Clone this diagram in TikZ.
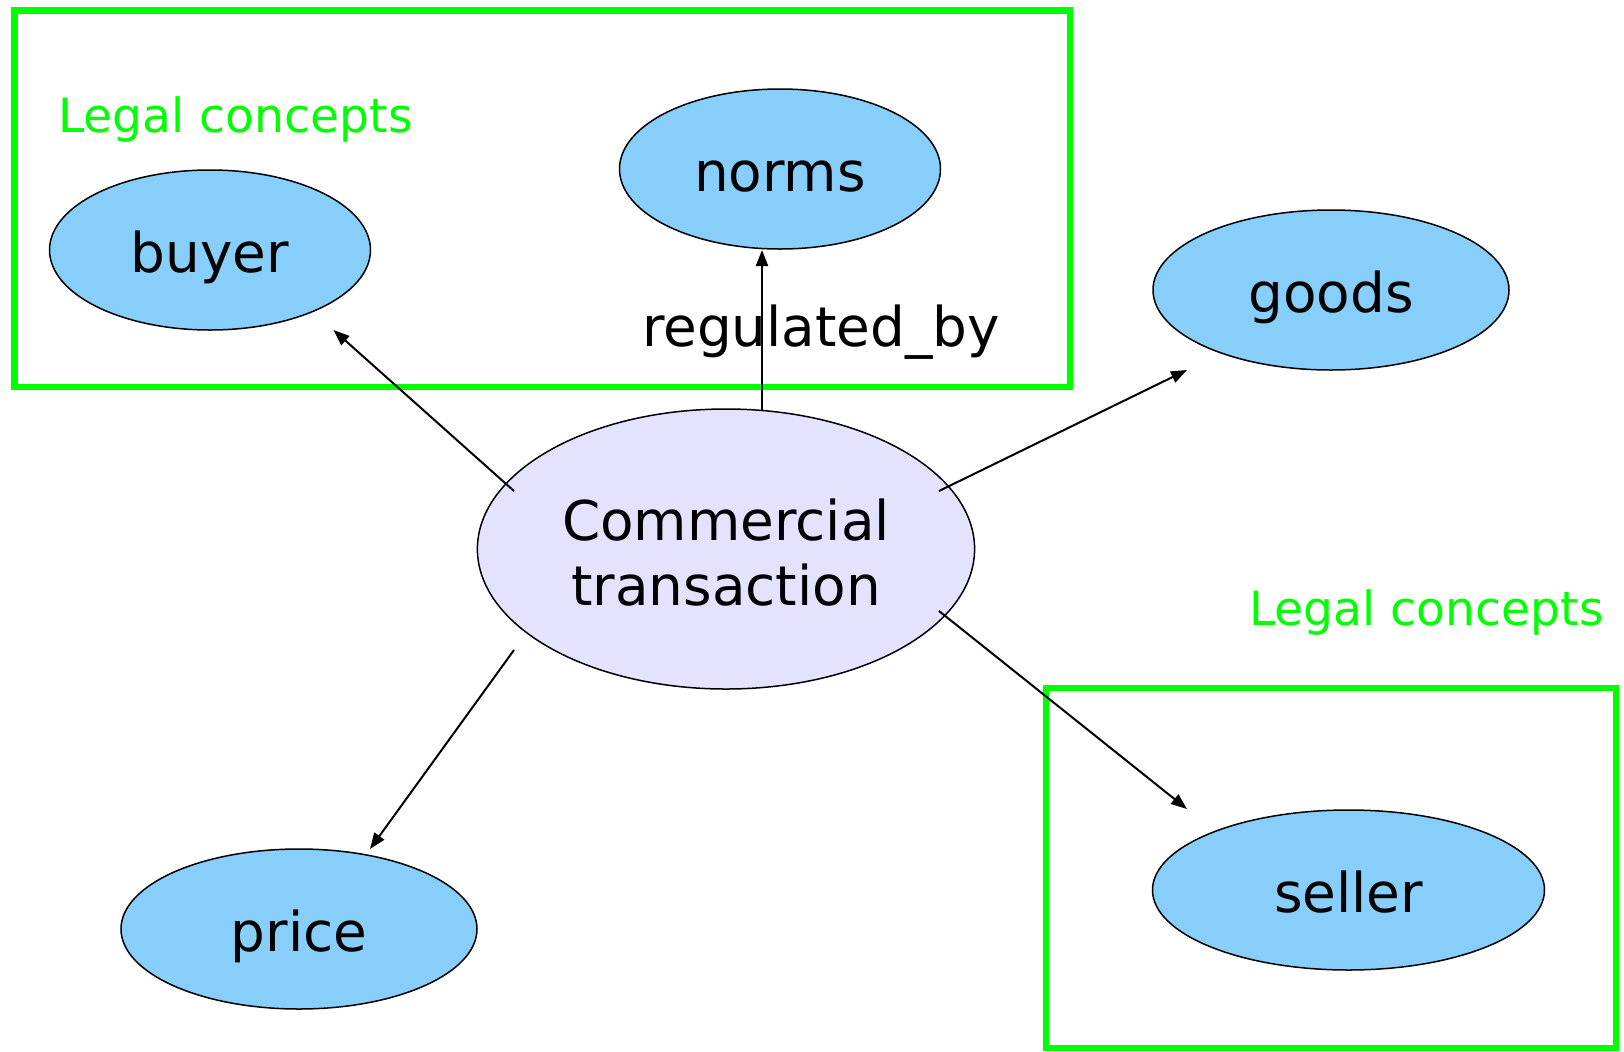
\documentclass[tikz,border=0pt]{standalone}
\usepackage{fontspec}
\setmainfont{DejaVu Sans}
\usetikzlibrary{shapes.geometric,arrows.meta}
\definecolor{nodeblue}{RGB}{135,206,250}
\definecolor{lav}{RGB}{227,227,255}
\definecolor{lgreen}{RGB}{0,255,0}
\tikzset{
  concept/.style={ellipse,draw=black,line width=0.75pt,fill=nodeblue,inner sep=0pt,
    minimum height=80pt,text height=22pt,text depth=0pt,font=\fontsize{27.4}{33}\selectfont},
  central/.style={ellipse,draw=black,line width=0.75pt,fill=lav,inner sep=0pt,
    minimum width=248.6pt,minimum height=140pt,text height=30pt,text depth=30pt,
    font=\fontsize{27.4}{32.6}\selectfont},
  rel/.style={line width=1pt,-{Triangle[length=8pt,width=6pt]}},
  groupbox/.style={draw=lgreen,line width=3.1pt},
  grouplabel/.style={text=lgreen,font=\fontsize{23.6}{28}\selectfont,inner sep=0pt},
  edgelabel/.style={font=\fontsize{27.4}{33}\selectfont,inner sep=0pt}
}
\begin{document}
\begin{tikzpicture}[x=0.5pt,y=-0.5pt]
\useasboundingbox (0,0) rectangle (1624,1051);
% group boxes
\draw[groupbox] (14.5,10.4) rectangle (1070,387);
\draw[groupbox] (1046,688) rectangle (1616,1048);
\node[grouplabel,anchor=base west] (lc1) at (58,132.6) {Legal concepts};
\node[grouplabel,anchor=base west] (lc2) at (1249,625.6) {Legal concepts};
% nodes
\node[concept,minimum width=160.5pt] (buyer) at (210,250) {buyer};
\node[concept,minimum width=160.5pt] (norms) at (780,169) {norms};
\node[concept,minimum width=178pt] (goods) at (1331,290) {goods};
\node[central] (ct) at (726,549) {\raisebox{-11.5pt}{\begin{tabular}{@{}c@{}}Commercial\\transaction\end{tabular}}};
\node[concept,minimum width=178pt] (price) at (299,929) {price};
\node[concept,minimum width=196pt] (seller) at (1348.5,890) {seller};
% connector endpoints
\coordinate (sBuyer) at (514,491);
\coordinate (eBuyer) at (333.5,330);
\coordinate (sNorms) at (762,410);
\coordinate (eNorms) at (762,250);
\coordinate (sGoods) at (939,491);
\coordinate (eGoods) at (1187,370);
\coordinate (sPrice) at (514,650);
\coordinate (ePrice) at (370,849);
\coordinate (sSeller) at (939,611);
\coordinate (eSeller) at (1187,809);
% connectors
\draw[rel] (sBuyer) -- (eBuyer);
\draw[rel] (sNorms) -- (eNorms);
\draw[rel] (sGoods) -- (eGoods);
\draw[rel] (sPrice) -- (ePrice);
\draw[rel] (sSeller) -- (eSeller);
\node[edgelabel,anchor=base] (reglab) at (821,346) {regulated\_by};
\end{tikzpicture}
\end{document}
